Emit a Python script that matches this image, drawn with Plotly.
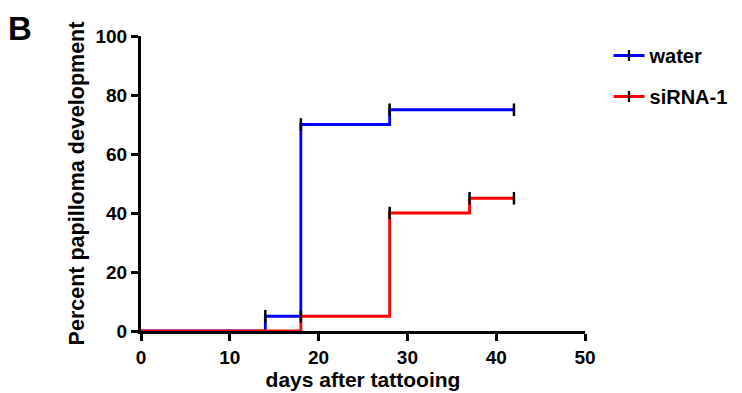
import plotly.graph_objects as go

# Step data (Kaplan-Meier style cumulative incidence)
water_days = [0, 14, 18, 28, 42]
water_pct = [0, 5, 70, 75, 75]
sirna_days = [0, 18, 28, 37, 42]
sirna_pct = [0, 5, 40, 45, 45]

# censor / event tick marks
water_mark_days = [14, 18, 28, 42]
water_mark_pct = [5, 70, 75, 75]
sirna_mark_days = [18, 28, 37, 42]
sirna_mark_pct = [5, 40, 45, 45]

x_ticks = [0, 10, 20, 30, 40, 50]
y_ticks = [0, 20, 40, 60, 80, 100]

FONT = "Liberation Sans, Arial, Helvetica, sans-serif"
BLUE = "#0000FF"
RED = "#FF0000"

fig = go.Figure()

for name, xs, ys, mx, my, col, grp in [
    ("water", water_days, water_pct, water_mark_days, water_mark_pct, BLUE, "g1"),
    ("siRNA-1", sirna_days, sirna_pct, sirna_mark_days, sirna_mark_pct, RED, "g2"),
]:
    fig.add_trace(go.Scatter(x=xs, y=ys, mode="lines", line=dict(color=col, width=2.8, shape="hv"),
                             showlegend=False, legendgroup=grp, cliponaxis=False, hoverinfo="skip"))
    fig.add_trace(go.Scatter(x=mx, y=my, mode="markers",
                             marker=dict(symbol="line-ns", size=9, line=dict(color="black", width=2.5)),
                             showlegend=False, legendgroup=grp, cliponaxis=False))
    # legend entry
    fig.add_trace(go.Scatter(x=[None], y=[None], mode="lines+markers", name=name, legendgroup=grp,
                             line=dict(color=col, width=2.8),
                             marker=dict(symbol="line-ns", size=8, line=dict(color="black", width=2.2))))

axis_common = dict(
    showline=True, linecolor="black", linewidth=3, ticks="outside", ticklen=7, tickwidth=2.5,
    tickcolor="black", showgrid=False, zeroline=False, mirror=False, automargin=False,
    tickfont=dict(family=FONT, size=19, color="black", weight="bold"),
)

# page body has an 8px margin, so the figure is sized 8px smaller
fig.update_layout(
    width=734, height=385,
    margin=dict(l=133, r=157, t=28, b=62, autoexpand=False),
    paper_bgcolor="white", plot_bgcolor="white",
    xaxis=dict(range=[0, 50], tickvals=x_ticks,
               title=dict(text="<b>days after tattooing</b>", font=dict(family=FONT, size=21, color="black"), standoff=5),
               **axis_common),
    yaxis=dict(range=[0, 100], tickvals=y_ticks,
               title=dict(text="<b>Percent papilloma development</b>", font=dict(family=FONT, size=21.5, color="black"), standoff=5),
               **axis_common),
    legend=dict(x=1.053, y=1.0, xanchor="left", yanchor="top", tracegroupgap=12, itemwidth=31,
                font=dict(family=FONT, size=20, color="black", weight="bold"), bgcolor="rgba(0,0,0,0)"),
)
fig.add_annotation(text="<b>B</b>", xref="paper", yref="paper", x=-0.304, y=1.095,
                   xanchor="left", yanchor="top", showarrow=False,
                   font=dict(family=FONT, size=33, color="black"))

fig.write_html("out.html")
